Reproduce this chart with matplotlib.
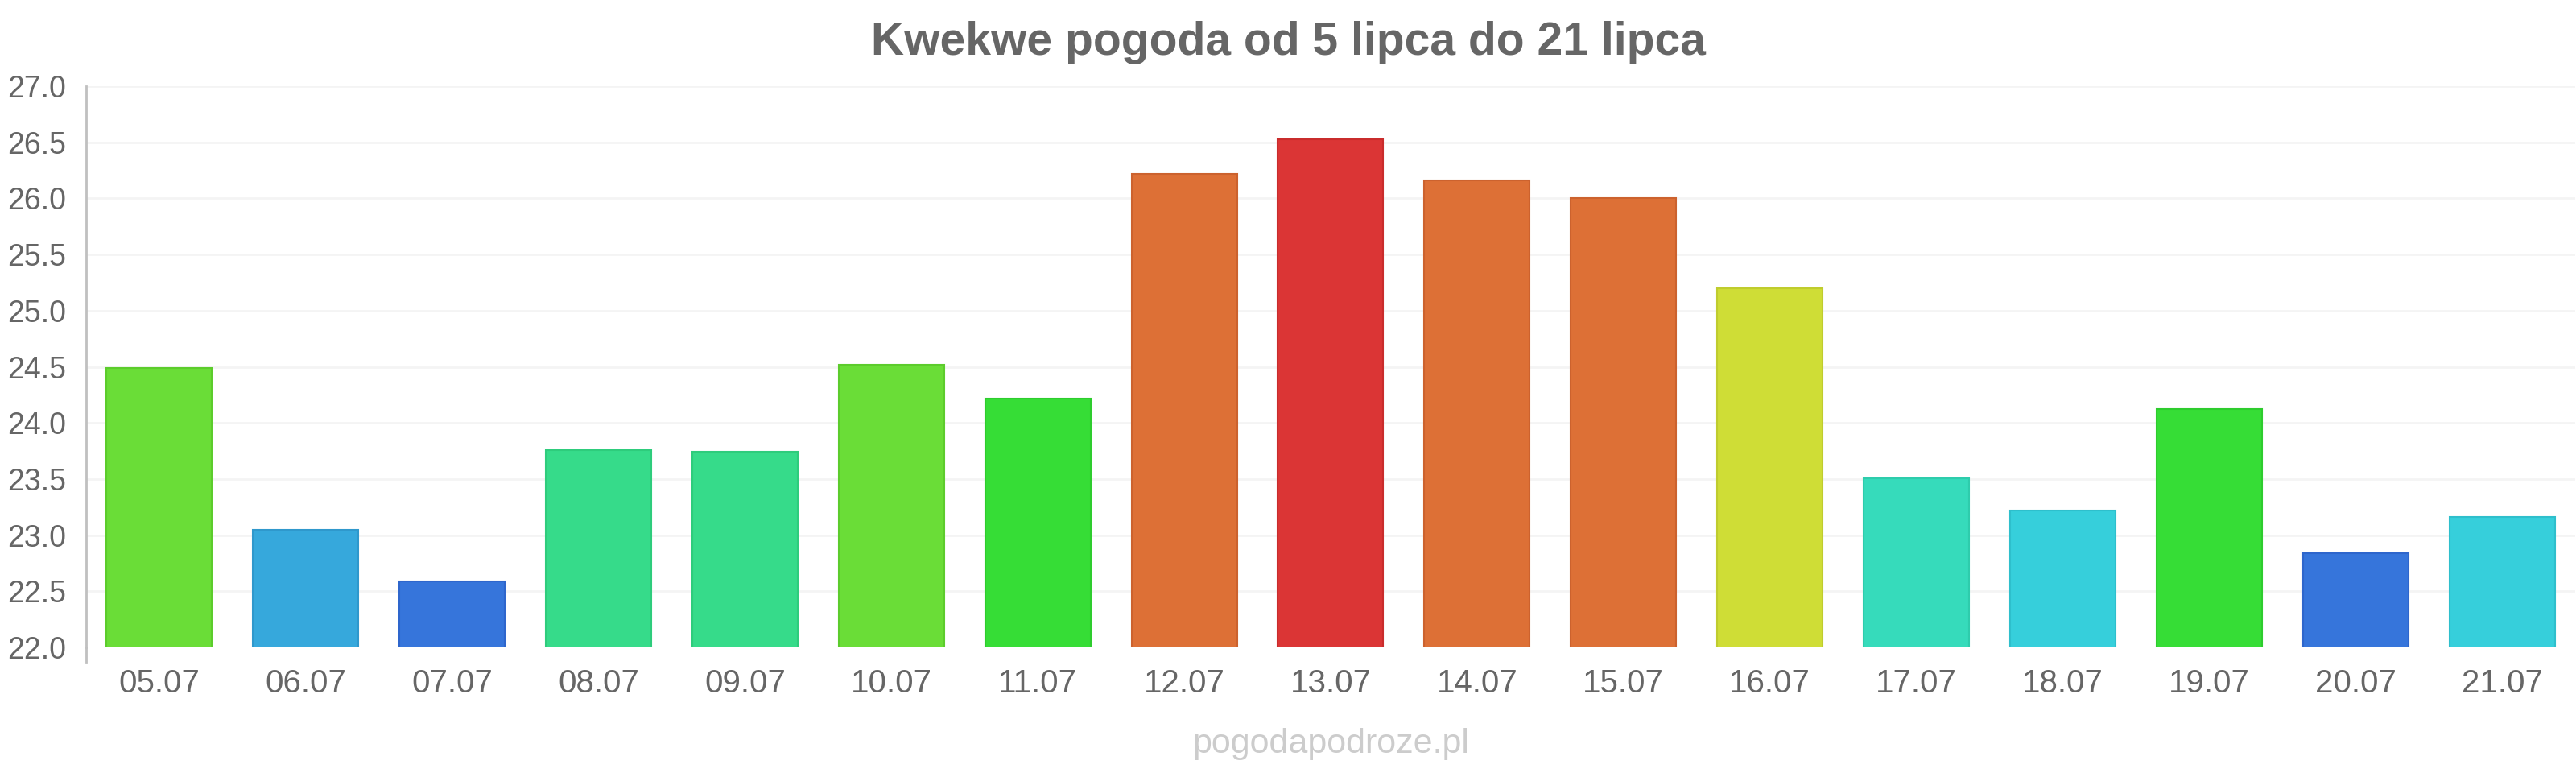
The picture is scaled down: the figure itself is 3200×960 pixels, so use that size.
import matplotlib
matplotlib.use("Agg")
import matplotlib.pyplot as plt
import numpy as np

plt.rcParams["font.family"] = ["Liberation Sans", "DejaVu Sans"]

# data
days = ["05.07", "06.07", "07.07", "08.07", "09.07", "10.07", "11.07", "12.07", "13.07",
        "14.07", "15.07", "16.07", "17.07", "18.07", "19.07", "20.07", "21.07"]
temps = [24.49, 23.05, 22.59, 23.76, 23.74, 24.52, 24.22, 26.22, 26.53,
         26.16, 26.00, 25.20, 23.51, 23.22, 24.12, 22.84, 23.16]
colors = ["#6add37", "#36a8dc", "#3675db", "#36db8a", "#36db8a", "#6add37", "#36dd36", "#dd7036", "#db3535",
          "#dd7036", "#dd7036", "#cfdd36", "#36dbbb", "#36cfdb", "#36dd36", "#3675db", "#36cfdb"]
edges = ["#5ccc2c", "#2f98cc", "#2e66cc", "#2ecc7c", "#2ecc7c", "#5ccc2c", "#2ecc2e", "#cc622e", "#c92c2c",
         "#cc622e", "#cc622e", "#bfcc2e", "#2eccac", "#2ebfcc", "#2ecc2e", "#2e66cc", "#2ebfcc"]
yticks = np.arange(22.0, 27.01, 0.5)

title = "Kwekwe pogoda od 5 lipca do 21 lipca"
watermark = "pogodapodroze.pl"

fig = plt.figure(figsize=(32, 9.6), dpi=100)
ax = fig.add_axes([0.0334, 0.1625, 0.9663, 0.726])

x = np.arange(len(days))
ax.bar(x, temps, width=0.72, color=colors, edgecolor=edges, linewidth=1.5, zorder=3)
ax.set_xlim(-0.5, len(days) - 0.5)
ax.set_ylim(22.0, 27.0)
ax.set_yticks(yticks)
ax.set_yticklabels([f"{v:.1f}" for v in yticks])
ax.set_xticks(x)
ax.set_xticklabels(days)
ax.tick_params(axis="y", length=0, pad=18, labelsize=27, labelcolor="#666666")
ax.tick_params(axis="x", length=0, pad=19, labelsize=29, labelcolor="#666666")
ax.grid(True, axis="y", color="#f4f4f4", linewidth=2, zorder=0)

for s in ["top", "right", "bottom"]:
    ax.spines[s].set_visible(False)
ax.spines["left"].set_color("#c0c0c0")
ax.spines["left"].set_linewidth(2)
ax.plot([0, 0], [0, -0.027], transform=ax.transAxes, color="#c0c0c0", linewidth=2, clip_on=False)

fig.text(0.5, 0.945, title, ha="center", va="center", fontsize=41, fontweight="bold", color="#666666")
fig.text(0.5165, 0.038, watermark, ha="center", va="center", fontsize=31, color="#cccccc")

fig.savefig("out.png", dpi=100)
